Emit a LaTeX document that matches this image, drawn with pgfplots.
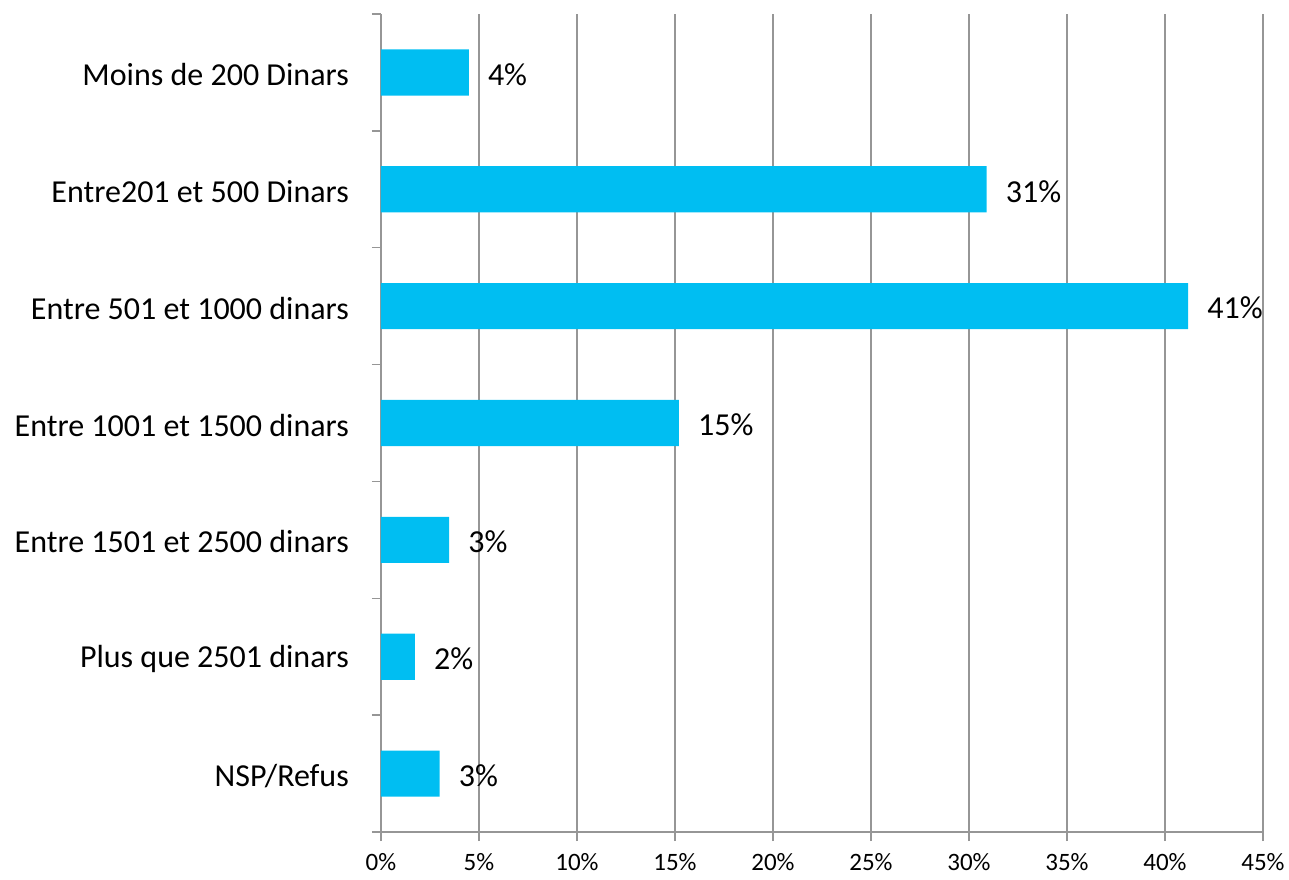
\documentclass[border=0pt]{standalone}
\usepackage{fontspec}
\setmainfont{Carlito}
\usepackage{pgfplots}
\pgfplotsset{compat=1.18}
\definecolor{barblue}{RGB}{0,190,242}
\definecolor{gridgray}{RGB}{150,150,150}

\newcommand{\catfont}{\fontsize{32bp}{37bp}\selectfont}
\newcommand{\tickfont}{\fontsize{25bp}{29bp}\selectfont}

\begin{document}
\begin{tikzpicture}
\begin{axis}[
  name=ax, at={(0,0)}, anchor=south west,
  scale only axis, width=882bp, height=818bp,
  xbar, bar width=0.395,
  xmin=0, xmax=45, ymin=-0.5, ymax=6.5, y dir=reverse,
  axis x line*=bottom, axis y line*=left,
  axis line style={draw=gridgray, line width=1.4bp},
  /pgf/number format/assume math mode=true,
  xtick={0,5,...,45},
  xticklabel={\pgfmathprintnumber{\tick}\%},
  xticklabel style={font=\tickfont, black, inner sep=0pt, yshift=-12bp},
  xmajorgrids,
  major grid style={draw=gridgray, line width=1.4bp},
  tick align=outside, major tick length=9bp,
  tick style={draw=gridgray, line width=1.4bp},
  % boundary ticks between the categories, without labels
  ytick={-0.5,0.5,...,6.5},
  yticklabels={,,,,,,,},
  % category names at the bar centres
  extra y ticks={0,1,2,3,4,5,6},
  extra y tick labels={Moins de 200 Dinars, Entre201 et 500 Dinars,
    Entre 501 et 1000 dinars, Entre 1001 et 1500 dinars,
    Entre 1501 et 2500 dinars, Plus que 2501 dinars, NSP/Refus},
  extra y tick style={tick style={draw=none},
    yticklabel style={font=\catfont, black, anchor=east, inner sep=0pt,
      xshift=-23bp, yshift=-2bp}},
  point meta=x,
  nodes near coords={\pgfmathprintnumber[fixed,precision=0]{\pgfplotspointmeta}\%},
  nodes near coords align=horizontal,
  every node near coord/.append style={font=\catfont, black, anchor=west,
    inner sep=0pt, xshift=19bp, yshift=-2bp},
  clip=false,
]
\addplot[fill=barblue, draw=none] coordinates {
  (4.48,0) (30.9,1) (41.18,2) (15.2,3) (3.48,4) (1.73,5) (2.99,6)
};
\end{axis}
\pgfresetboundingbox
\useasboundingbox ([shift={(-381bp,-48bp)}]ax.south west)
  rectangle ([shift={(908bp,832bp)}]ax.south west);
\end{tikzpicture}
\end{document}
